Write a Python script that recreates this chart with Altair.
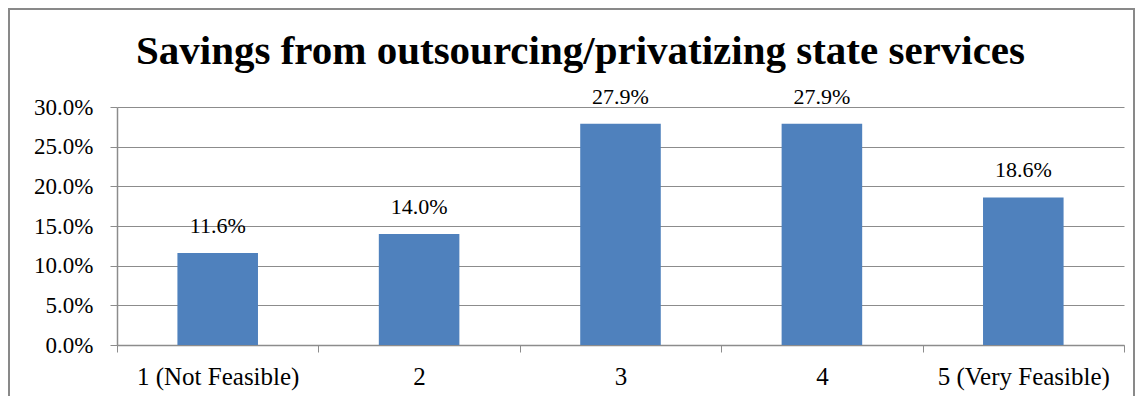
import altair as alt
import pandas as pd

categories = ["1 (Not Feasible)", "2", "3", "4", "5 (Very Feasible)"]
values = [0.116, 0.140, 0.279, 0.279, 0.186]
labels = ["11.6%", "14.0%", "27.9%", "27.9%", "18.6%"]
y_ticks = [0.0, 0.05, 0.10, 0.15, 0.20, 0.25, 0.30]
title_text = "Savings from outsourcing/privatizing state services"

df = pd.DataFrame({"cat": categories, "val": values, "lab": labels})

FONT = "'Liberation Serif', 'DejaVu Serif', serif"
GRAY = "#8c8c8c"
W, H = 1007, 238

x_enc = alt.X(
    "cat:N",
    sort=categories,
    scale=alt.Scale(paddingInner=0, paddingOuter=0, round=False),
    axis=alt.Axis(
        title=None,
        labelAngle=0,
        labelFont=FONT,
        labelFontSize=25,
        labelColor="black",
        labelPadding=12,
        tickBand="extent",
        tickSize=7,
        tickColor=GRAY,
        domainColor=GRAY,
        domainWidth=1.5,
        grid=False,
    ),
)
y_enc = alt.Y(
    "val:Q",
    scale=alt.Scale(domain=[0, 0.3]),
    axis=alt.Axis(
        title=None,
        values=y_ticks,
        format=".1%",
        labelOverlap=False,
        labelFont=FONT,
        labelFontSize=23,
        labelColor="black",
        labelPadding=17,
        tickSize=7,
        tickColor=GRAY,
        domainColor=GRAY,
        domainWidth=1.5,
        grid=True,
        gridColor=GRAY,
        gridWidth=1,
    ),
)

base = alt.Chart(df)
bars = base.mark_bar(color="#4f81bd", width=alt.RelativeBandSize(0.4)).encode(x=x_enc, y=y_enc)
text = base.mark_text(
    baseline="alphabetic", dy=-20, font=FONT, fontSize=22, color="black"
).encode(x=x_enc, y=y_enc, text="lab:N")

frame = alt.Chart(pd.DataFrame({"a": [0]})).mark_rect(
    fill=None, stroke="#898989", strokeWidth=2
).encode(
    x=alt.value(-108), x2=alt.value(W + 10),
    y=alt.value(-98), y2=alt.value(H + 80),
)

chart = alt.layer(frame, bars, text).properties(
    width=W,
    height=H,
    background="white",
    title=alt.TitleParams(
        title_text,
        font=FONT,
        fontSize=41,
        fontWeight="bold",
        color="black",
        anchor="middle",
        baseline="alphabetic",
        dx=-40,
        offset=-97,
    ),
    autosize=alt.AutoSizeParams(type="none"),
    padding={"left": 109, "top": 99, "right": 12, "bottom": 51},
).configure_view(stroke=None, strokeWidth=0)

chart.save("out.html", embed_options={"renderer": "svg", "actions": False})
